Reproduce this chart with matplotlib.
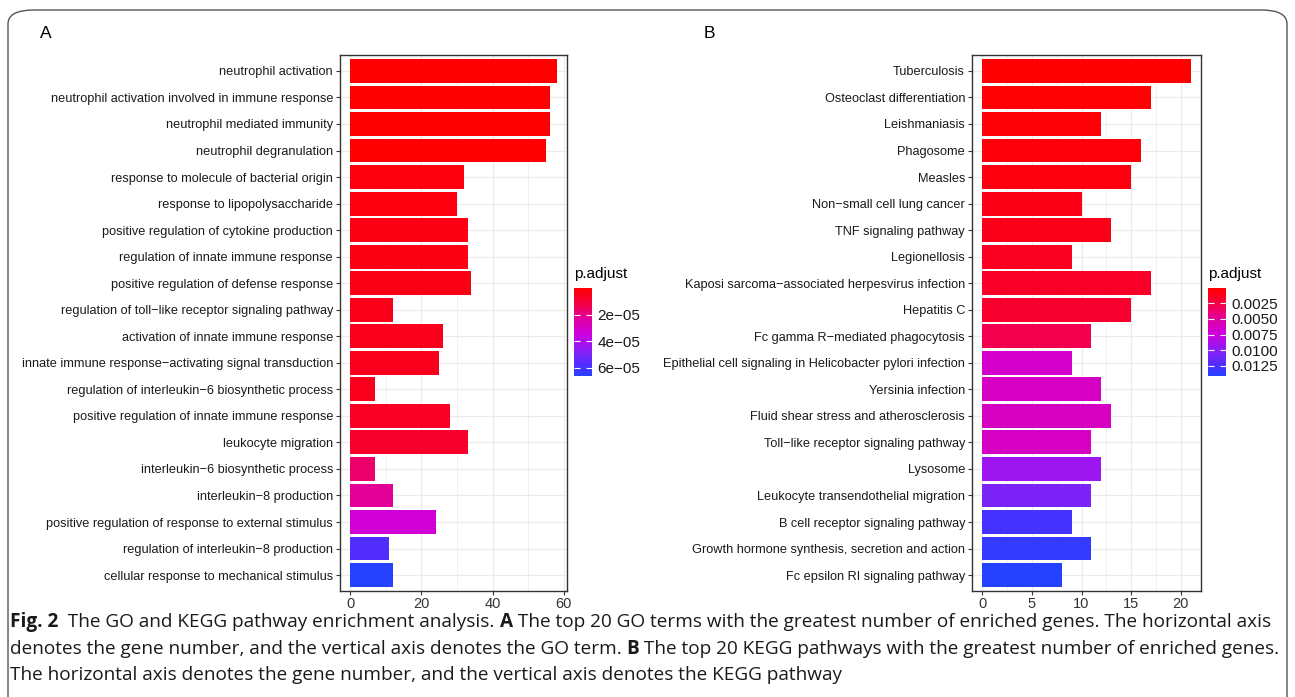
import numpy as np
import matplotlib
matplotlib.use("Agg")
import matplotlib.pyplot as plt
from matplotlib import font_manager
from matplotlib.colors import LinearSegmentedColormap, Normalize
from matplotlib.patches import FancyBboxPatch
from matplotlib.cm import ScalarMappable

# GO terms, top to bottom as shown
go_terms = [
    "neutrophil activation",
    "neutrophil activation involved in immune response",
    "neutrophil mediated immunity",
    "neutrophil degranulation",
    "response to molecule of bacterial origin",
    "response to lipopolysaccharide",
    "positive regulation of cytokine production",
    "regulation of innate immune response",
    "positive regulation of defense response",
    "regulation of toll\u2212like receptor signaling pathway",
    "activation of innate immune response",
    "innate immune response\u2212activating signal transduction",
    "regulation of interleukin\u22126 biosynthetic process",
    "positive regulation of innate immune response",
    "leukocyte migration",
    "interleukin\u22126 biosynthetic process",
    "interleukin\u22128 production",
    "positive regulation of response to external stimulus",
    "regulation of interleukin\u22128 production",
    "cellular response to mechanical stimulus",
]
go_count = [58, 56, 56, 55, 32, 30, 33, 33, 34, 12, 26, 25, 7, 28, 33, 7, 12, 24, 11, 12]
go_padj = [1e-7, 1e-7, 1e-7, 2e-7, 2.6e-6, 2.8e-6, 3.5e-6, 3.5e-6, 4e-6, 4.5e-6,
           5e-6, 5e-6, 5.5e-6, 7e-6, 8e-6, 1.65e-5, 2.2e-5, 3.3e-5, 5.7e-5, 6.6e-5]

kegg_terms = [
    "Tuberculosis",
    "Osteoclast differentiation",
    "Leishmaniasis",
    "Phagosome",
    "Measles",
    "Non\u2212small cell lung cancer",
    "TNF signaling pathway",
    "Legionellosis",
    "Kaposi sarcoma\u2212associated herpesvirus infection",
    "Hepatitis C",
    "Fc gamma R\u2212mediated phagocytosis",
    "Epithelial cell signaling in Helicobacter pylori infection",
    "Yersinia infection",
    "Fluid shear stress and atherosclerosis",
    "Toll\u2212like receptor signaling pathway",
    "Lysosome",
    "Leukocyte transendothelial migration",
    "B cell receptor signaling pathway",
    "Growth hormone synthesis, secretion and action",
    "Fc epsilon RI signaling pathway",
]
kegg_count = [21, 17, 12, 16, 15, 10, 13, 9, 17, 15, 11, 9, 12, 13, 11, 12, 11, 9, 11, 8]
kegg_padj = [0.0001, 0.00024, 0.00038, 0.00052, 0.00066, 0.00094, 0.00108, 0.00136, 0.00164, 0.00192,
             0.0029, 0.00668, 0.0064, 0.00626, 0.0064, 0.00934, 0.0106, 0.0127, 0.0134, 0.0141]

go_cb_ticks = [2e-5, 4e-5, 6e-5]
go_cb_labels = ["2e\u221205", "4e\u221205", "6e\u221205"]
kegg_cb_ticks = [0.0025, 0.0050, 0.0075, 0.0100, 0.0125]
kegg_cb_labels = ["0.0025", "0.0050", "0.0075", "0.0100", "0.0125"]

W, H = 1295, 697
plt.rcParams['font.family'] = ['Liberation Sans', 'DejaVu Sans']
AX_FONT = ['Liberation Sans', 'DejaVu Sans']
sz = dict(y=9.2, x=10.5, cb=11.0, title=11.0)

# red -> magenta -> blue, sampled from the legend of the original
cmap = LinearSegmentedColormap.from_list("padj", [
    (0.0, "#ff0000"), (0.17, "#f5003f"), (0.35, "#e000a0"), (0.53, "#cc00e0"),
    (0.71, "#8a1ef5"), (0.89, "#4a30ff"), (1.0, "#2542ff")])


def px_axes(fig, l, t, r, b):
    return fig.add_axes([l / W, 1 - b / H, (r - l) / W, (b - t) / H])


def draw_panel(fig, box, terms, counts, padj, xticks, xminor, cbox, cticks, clabels):
    ax = px_axes(fig, *box)
    norm = Normalize(min(padj), max(padj))
    n = len(terms)
    ypos = np.arange(n)[::-1]
    ax.barh(ypos, counts, height=0.9, color=cmap(norm(padj)), edgecolor='none', zorder=3)
    ax.set_xlim(-max(counts) * 0.05, max(counts) * 1.05)
    ax.set_ylim(-0.6, n - 0.4)
    ax.set_yticks(ypos)
    ax.set_yticklabels(terms, fontsize=sz['y'], color='#1a1a1a', family=AX_FONT)
    ax.set_xticks(xticks)
    ax.set_xticks(xminor, minor=True)
    ax.set_xticklabels([str(x) for x in xticks], fontsize=sz['x'], color='#333333', family=AX_FONT)
    ax.tick_params(axis='both', which='major', length=3, width=0.8, color='#333333', pad=2)
    ax.tick_params(axis='x', which='major', pad=1)
    ax.tick_params(axis='x', which='minor', length=0)
    ax.grid(True, which='major', color='#ebebeb', lw=0.9, zorder=0)
    ax.grid(True, which='minor', axis='x', color='#ebebeb', lw=0.5, zorder=0)
    ax.set_axisbelow(True)
    for s in ax.spines.values():
        s.set_color('#333333')
        s.set_linewidth(1.0)

    cax = px_axes(fig, *cbox)
    cb = fig.colorbar(ScalarMappable(norm=norm, cmap=cmap), cax=cax)
    cb.outline.set_visible(False)
    cax.invert_yaxis()
    cb.set_ticks(cticks)
    cb.set_ticklabels(clabels)
    cax.yaxis.set_ticks_position('both')
    cax.tick_params(direction='in', color='white', length=4, width=0.8, labelsize=sz['cb'],
                    labelcolor='#1a1a1a', labelleft=False, labelright=True, pad=4)
    fig.text(cbox[0] / W, 1 - (cbox[1] - 14) / H, "p.adjust", fontsize=sz['title'],
             va='center', ha='left', family=AX_FONT)
    return ax


fig = plt.figure(figsize=(W / 100, H / 100), dpi=100)

# rounded frame around the figure
frame = FancyBboxPatch((8 / W, -0.05), (1287 - 8) / W, 1 - 10 / H + 0.05,
                       boxstyle="round,pad=0,rounding_size=0.02", transform=fig.transFigure,
                       fill=False, edgecolor='#555555', lw=1.0)
fig.patches.append(frame)

draw_panel(fig, (340, 55, 567, 591), go_terms, go_count, go_padj,
           [0, 20, 40, 60], [10, 30, 50],
           (574, 288, 592, 376), go_cb_ticks, go_cb_labels)
draw_panel(fig, (972, 55, 1201, 591), kegg_terms, kegg_count, kegg_padj,
           [0, 5, 10, 15, 20], [2.5, 7.5, 12.5, 17.5],
           (1208, 288, 1226, 376), kegg_cb_ticks, kegg_cb_labels)

fig.text(40 / W, 1 - 34 / H, "A", fontsize=12.5, va='center')
fig.text(704 / W, 1 - 34 / H, "B", fontsize=12.5, va='center')

# caption with bold pieces, sized so the first line ends where the original does
caption = [
    [("Fig. 2", True), ("  The GO and KEGG pathway enrichment analysis. ", False), ("A", True),
     (" The top 20 GO terms with the greatest number of enriched genes. The horizontal axis", False)],
    [("denotes the gene number, and the vertical axis denotes the GO term. ", False), ("B", True),
     (" The top 20 KEGG pathways with the greatest number of enriched genes.", False)],
    [("The horizontal axis denotes the gene number, and the vertical axis denotes the KEGG pathway", False)],
]
cap_font = ['Open Sans', 'DejaVu Sans']
cap_stretch = 'semi-condensed'
renderer = fig.canvas.get_renderer()


def _line_width(line, size):
    w = 0
    for txt, bold in line:
        t = fig.text(0, 0, txt, fontsize=size, fontweight='bold' if bold else 'normal',
                     family=cap_font, fontstretch=cap_stretch)
        w += t.get_window_extent(renderer).width
        t.remove()
    return w


cap_size = 12 * (1272 - 10) / _line_width(caption[0], 12)
for i, line in enumerate(caption):
    x = 10
    y = 622 + i * 26.5
    for txt, bold in line:
        t = fig.text(x / W, 1 - y / H, txt, fontsize=cap_size, va='center', ha='left',
                     fontweight='bold' if bold else 'normal', family=cap_font,
                     fontstretch=cap_stretch, color='#1a1a1a')
        x += t.get_window_extent(renderer).width

fig.savefig("out.png", dpi=100)
